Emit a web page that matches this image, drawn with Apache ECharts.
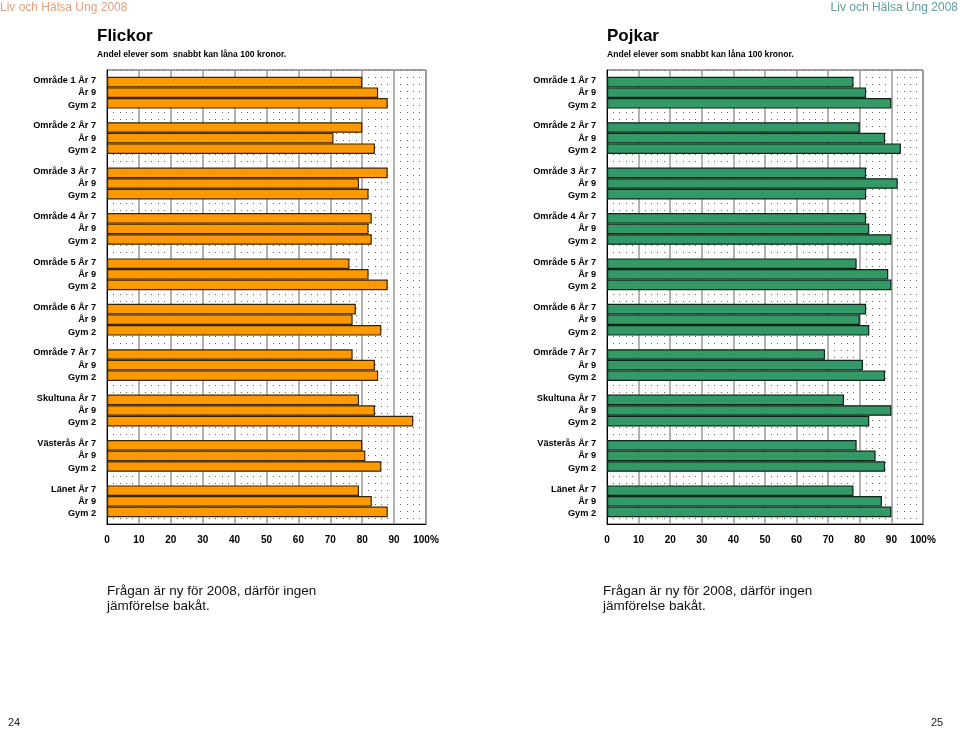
<!DOCTYPE html>
<html>
<head>
<meta charset="utf-8">
<script src="https://cdn.jsdelivr.net/npm/echarts@6/dist/echarts.min.js"></script>
<style>
html,body{margin:0;padding:0;background:#fff;}
#c{width:960px;height:729px;}
</style>
</head>
<body>
<div id="c"></div>
<script>
var groups = ['Område 1', 'Område 2', 'Område 3', 'Område 4', 'Område 5', 'Område 6', 'Område 7', 'Skultuna', 'Västerås', 'Länet'];
var subLabels = ['År 7', 'År 9', 'Gym 2'];
var xTicks = ['0', '10', '20', '30', '40', '50', '60', '70', '80', '90', '100%'];

var girlsAr7 = [80, 80, 88, 83, 76, 78, 77, 79, 80, 79];
var girlsAr9 = [85, 71, 79, 82, 82, 77, 84, 84, 81, 83];
var girlsGym2 = [88, 84, 82, 83, 88, 86, 85, 96, 86, 88];

var boysAr7 = [78, 80, 82, 82, 79, 82, 69, 75, 79, 78];
var boysAr9 = [82, 88, 92, 83, 89, 80, 81, 90, 85, 87];
var boysGym2 = [90, 93, 82, 90, 90, 83, 88, 83, 88, 90];

var catLabels = groups.map(function (g) {
  return g + ' ' + subLabels[0] + '\n' + subLabels[1] + '\n' + subLabels[2];
});

var sans = "'Liberation Sans', Arial, sans-serif";

function xAxisDef(idx) {
  return {
    type: 'value', gridIndex: idx, min: 0, max: 100, interval: 10,
    axisLine: { show: true, lineStyle: { color: '#000', width: 1 } },
    axisTick: { show: false },
    axisLabel: {
      margin: 11, color: '#000', fontFamily: sans, fontWeight: 'bold', fontSize: 10,
      formatter: function (v) { return xTicks[Math.round(v / 10)]; }
    },
    splitLine: { show: true, lineStyle: { color: '#999', width: 1.5 } },
    minorTick: { show: false, splitNumber: 5 },
    minorSplitLine: { show: true, lineStyle: { color: '#666', width: 1, type: [1, 6] } }
  };
}
function yAxisDef(idx) {
  return {
    type: 'category', gridIndex: idx, inverse: true, data: catLabels,
    axisLine: { show: true, lineStyle: { color: '#000', width: 1 } },
    axisTick: { show: false },
    axisLabel: {
      interval: 0, margin: 11, align: 'right', color: '#000',
      fontFamily: sans, fontWeight: 'bold', fontSize: 9.2, lineHeight: 12.3,
      padding: [8, 0, 0, 0]
    }
  };
}
function barSeries(idx, data, color, border) {
  return {
    type: 'bar', xAxisIndex: idx, yAxisIndex: idx, data: data,
    barGap: '0%', barCategoryGap: '30%',
    itemStyle: { color: color, borderColor: border, borderWidth: 1.2 },
    animation: false
  };
}
function txt(text, pos, style) {
  var t = { text: text, padding: 0, textStyle: Object.assign({ fontFamily: sans, fontWeight: 'normal' }, style) };
  return Object.assign(t, pos);
}

var chart = echarts.init(document.getElementById('c'));
chart.setOption({
  animation: false,
  backgroundColor: '#fff',
  title: [
    txt('Liv och Hälsa Ung 2008', { left: 0, top: 2 }, { color: '#E39F7C', fontSize: 12 }),
    txt('Liv och Hälsa Ung 2008', { right: 2, top: 2 }, { color: '#5F9C9C', fontSize: 12 }),
    txt('Flickor', { left: 97, top: 28 }, { color: '#000', fontWeight: 'bold', fontSize: 17 }),
    txt('Andel elever som  snabbt kan låna 100 kronor.', { left: 97, top: 50 }, { color: '#000', fontWeight: 'bold', fontSize: 8.6 }),
    txt('Pojkar', { left: 607, top: 28 }, { color: '#000', fontWeight: 'bold', fontSize: 17 }),
    txt('Andel elever som snabbt kan låna 100 kronor.', { left: 607, top: 50 }, { color: '#000', fontWeight: 'bold', fontSize: 8.6 }),
    txt('Frågan är ny för 2008, därför ingen\njämförelse bakåt.', { left: 107, top: 584 }, { color: '#111', fontSize: 13.5, lineHeight: 15 }),
    txt('Frågan är ny för 2008, därför ingen\njämförelse bakåt.', { left: 603, top: 584 }, { color: '#111', fontSize: 13.5, lineHeight: 15 }),
    txt('24', { left: 8, top: 717 }, { color: '#222', fontSize: 11 }),
    txt('25', { left: 931, top: 717 }, { color: '#222', fontSize: 11 })
  ],
  grid: [
    { left: 107, top: 70, width: 319, height: 454, show: true, borderColor: '#444', borderWidth: 1, backgroundColor: 'transparent' },
    { left: 607, top: 70, width: 316, height: 454, show: true, borderColor: '#444', borderWidth: 1, backgroundColor: 'transparent' }
  ],
  xAxis: [xAxisDef(0), xAxisDef(1)],
  yAxis: [yAxisDef(0), yAxisDef(1)],
  series: [
    barSeries(0, girlsAr7, '#FF9900', '#3a2400'),
    barSeries(0, girlsAr9, '#FF9900', '#3a2400'),
    barSeries(0, girlsGym2, '#FF9900', '#3a2400'),
    barSeries(1, boysAr7, '#339966', '#0d2418'),
    barSeries(1, boysAr9, '#339966', '#0d2418'),
    barSeries(1, boysGym2, '#339966', '#0d2418')
  ]
});
</script>
</body>
</html>
